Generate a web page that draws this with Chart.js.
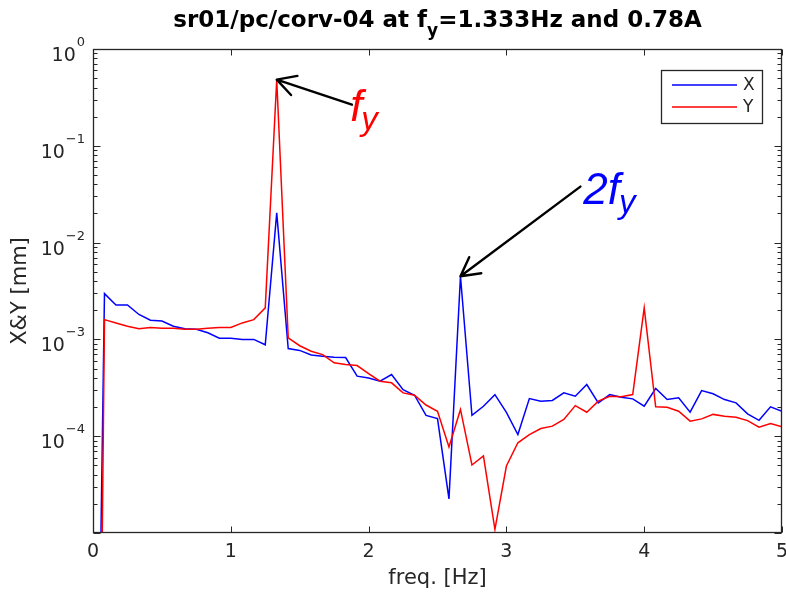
<!DOCTYPE html>
<html><head><meta charset="utf-8">
<script src="https://cdn.jsdelivr.net/npm/chart.js@4.4.0/dist/chart.umd.min.js"></script>
<style>html,body{margin:0;padding:0;background:#fff}#wrap{width:786px;height:594px;position:relative}</style>
</head><body><div id="wrap"><canvas id="c" width="786" height="594"></canvas></div>
<script>
// ---- data ----
const freq = [0,0.0833,0.1667,0.25,0.3333,0.4167,0.5,0.5833,0.6667,0.75,0.8333,0.9167,1,1.0833,1.1667,1.25,1.3333,1.4167,1.5,1.5833,1.6667,1.75,1.8333,1.9167,2,2.0833,2.1667,2.25,2.3333,2.4167,2.5,2.5833,2.6667,2.75,2.8333,2.9167,3,3.0833,3.1667,3.25,3.3333,3.4167,3.5,3.5833,3.6667,3.75,3.8333,3.9167,4,4.0833,4.1667,4.25,4.3333,4.4167,4.5,4.5833,4.6667,4.75,4.8333,4.9167,5];
const xAmp = [2.5e-11,2.97e-3,2.27e-3,2.27e-3,1.81e-3,1.58e-3,1.55e-3,1.37e-3,1.29e-3,1.27e-3,1.17e-3,1.03e-3,1.03e-3,1.0e-3,1.0e-3,8.8e-4,2.03e-2,8.05e-4,7.7e-4,6.9e-4,6.7e-4,6.55e-4,6.5e-4,4.17e-4,4.0e-4,3.7e-4,4.34e-4,3.03e-4,2.65e-4,1.64e-4,1.52e-4,2.25e-5,4.49e-3,1.64e-4,2.04e-4,2.69e-4,1.76e-4,1.04e-4,2.45e-4,2.30e-4,2.34e-4,2.81e-4,2.59e-4,3.42e-4,2.21e-4,2.69e-4,2.53e-4,2.43e-4,2.04e-4,3.11e-4,2.39e-4,2.49e-4,1.77e-4,2.96e-4,2.74e-4,2.39e-4,2.21e-4,1.70e-4,1.46e-4,2.01e-4,1.81e-4];
const yAmp = [5e-15,1.60e-3,1.48e-3,1.37e-3,1.29e-3,1.33e-3,1.30e-3,1.30e-3,1.27e-3,1.27e-3,1.30e-3,1.33e-3,1.33e-3,1.48e-3,1.60e-3,2.12e-3,0.482,1.04e-3,8.6e-4,7.55e-4,6.97e-4,5.73e-4,5.5e-4,5.37e-4,4.44e-4,3.7e-4,3.56e-4,2.8e-4,2.65e-4,2.1e-4,1.81e-4,7.74e-5,1.89e-4,5.04e-5,6.25e-5,1.09e-5,4.92e-5,8.55e-5,1.04e-4,1.20e-4,1.27e-4,1.49e-4,2.07e-4,1.77e-4,2.30e-4,2.59e-4,2.55e-4,2.69e-4,2.12e-3,2.01e-4,1.99e-4,1.81e-4,1.43e-4,1.51e-4,1.68e-4,1.61e-4,1.57e-4,1.45e-4,1.24e-4,1.35e-4,1.25e-4];
const seriesNames = ['X','Y'];
const xTickValues = [0,1,2,3,4,5];
const yTickExponents = [0,-1,-2,-3,-4];
const titleParts = ['sr01/pc/corv-04 at f','y','=1.333Hz and 0.78A'];
const xLabel = 'freq. [Hz]';
const yLabel = 'X&Y [mm]';
// annotations in data coordinates
const annoTips  = [[1.3333,0.482],[2.6667,4.49e-3]];
const annoTails = [[1.879,0.266],[3.537,0.0379]];
const annoTextPos = [[1.866,0.179],[3.558,0.0253]];
const annoMain = ['f','2f'];
const annoSub = ['y','y'];

const BLUE='#0000ff', RED='#ff0000', INK='#262626';
const FONT='"DejaVu Sans", sans-serif';

const decor = {
  id:'decor',
  afterDraw(chart){
    const {ctx, chartArea:a, scales:{x,y}} = chart;
    ctx.save();
    // axes box
    ctx.strokeStyle=INK; ctx.lineWidth=1.3;
    const L=Math.round(a.left)+0.5, R=Math.round(a.right)-0.5, T=Math.round(a.top)+0.5, B=Math.round(a.bottom)-0.5;
    ctx.strokeRect(L,T,R-L,B-T);
    ctx.lineWidth=1;
    ctx.beginPath();
    xTickValues.forEach(v=>{
      const px=Math.round(x.getPixelForValue(v))+0.5;
      ctx.moveTo(px,B); ctx.lineTo(px,B-6);
      ctx.moveTo(px,T); ctx.lineTo(px,T+6);
    });
    for(let e=0;e>=-5;e--){
      for(let m=1;m<=9;m++){
        const v=m*Math.pow(10,e-(m>1?1:0));
        if(v>1||v<1e-5) continue;
        const py=Math.round(y.getPixelForValue(v))+0.5;
        const len = m===1?7:4;
        ctx.moveTo(L,py); ctx.lineTo(L+len,py);
        ctx.moveTo(R,py); ctx.lineTo(R-len,py);
      }
    }
    ctx.stroke();
    // y tick labels 10^n
    ctx.fillStyle=INK; ctx.textBaseline='alphabetic';
    yTickExponents.forEach(e=>{
      const py=y.getPixelForValue(Math.pow(10,e));
      ctx.font='13px '+FONT;
      const es=String(e).replace('-','\u2212');
      const ew=ctx.measureText(es).width;
      const xr=85;
      ctx.textAlign='left';
      ctx.fillText(es,xr-ew,py-3);
      ctx.font='19px '+FONT;
      ctx.textAlign='right';
      ctx.fillText('10',xr-ew-1,py+12);
    });
    // title with subscript
    const tf='bold 23px '+FONT, sf='bold 17px '+FONT;
    ctx.font=tf; const w0=ctx.measureText(titleParts[0]).width, w2=ctx.measureText(titleParts[2]).width;
    ctx.font=sf; const w1=ctx.measureText(titleParts[1]).width;
    let tx=(a.left+a.right)/2-(w0+w1+w2)/2; const ty=27;
    ctx.textAlign='left'; ctx.fillStyle='#000';
    ctx.font=tf; ctx.fillText(titleParts[0],tx,ty); tx+=w0;
    ctx.font=sf; ctx.fillText(titleParts[1],tx,ty+9); tx+=w1;
    ctx.font=tf; ctx.fillText(titleParts[2],tx,ty);
    // legend
    const lx=a.right-121, ly=a.top+21, lw=101, lh=53;
    ctx.fillStyle='#fff'; ctx.fillRect(lx,ly,lw,lh);
    ctx.strokeStyle=INK; ctx.lineWidth=1.3; ctx.strokeRect(lx+0.5,ly+0.5,lw,lh);
    [BLUE,RED].forEach((c,i)=>{
      const yy=ly+15+i*22;
      ctx.strokeStyle=c; ctx.lineWidth=1.6;
      ctx.beginPath(); ctx.moveTo(lx+11,yy); ctx.lineTo(lx+76,yy); ctx.stroke();
      ctx.fillStyle=INK; ctx.font='17px '+FONT; ctx.textAlign='left'; ctx.textBaseline='middle';
      ctx.fillText(seriesNames[i],lx+82,yy+1);
    });
    // annotations
    ctx.textBaseline='alphabetic';
    annoTips.forEach((tip,i)=>{
      const tx1=x.getPixelForValue(tip[0]), ty1=y.getPixelForValue(tip[1]);
      const tx0=x.getPixelForValue(annoTails[i][0]), ty0=y.getPixelForValue(annoTails[i][1]);
      ctx.strokeStyle='#000'; ctx.lineWidth=2.4; ctx.lineCap='round'; ctx.lineJoin='round';
      ctx.beginPath(); ctx.moveTo(tx0,ty0); ctx.lineTo(tx1,ty1);
      const ang=Math.atan2(ty0-ty1,tx0-tx1), hl=21, ha=0.5;
      ctx.moveTo(tx1+hl*Math.cos(ang+ha),ty1+hl*Math.sin(ang+ha)); ctx.lineTo(tx1,ty1);
      ctx.lineTo(tx1+hl*Math.cos(ang-ha),ty1+hl*Math.sin(ang-ha));
      ctx.stroke();
      const px=x.getPixelForValue(annoTextPos[i][0]), py=y.getPixelForValue(annoTextPos[i][1]);
      ctx.fillStyle = i===0?RED:BLUE;
      ctx.font='italic 44px "Liberation Sans", sans-serif'; ctx.textAlign='left';
      ctx.fillText(annoMain[i],px,py);
      const mw=ctx.measureText(annoMain[i]).width;
      ctx.font='italic 33px "Liberation Sans", sans-serif';
      ctx.fillText(annoSub[i],px+mw-1,py+9);
    });
    ctx.restore();
  }
};

const pts = arr => freq.map((f,i)=>({x:f,y:arr[i]}));
new Chart(document.getElementById('c'),{
  type:'line',
  data:{datasets:[
    {label:seriesNames[0],data:pts(xAmp),borderColor:BLUE,borderWidth:1.5,pointRadius:0,tension:0,order:2,fill:false},
    {label:seriesNames[1],data:pts(yAmp),borderColor:RED,borderWidth:1.5,pointRadius:0,tension:0,order:1,fill:false}
  ]},
  options:{
    responsive:false, devicePixelRatio:1, animation:false,
    layout:{padding:{top:49,right:4,left:0,bottom:0}},
    plugins:{legend:{display:false},tooltip:{enabled:false},title:{display:false}},
    scales:{
      x:{type:'linear',min:0,max:5,
        afterBuildTicks:s=>{s.ticks=xTickValues.map(v=>({value:v}));},
        afterFit:s=>{s.height=61; s.paddingLeft=0; s.paddingRight=0;},
        grid:{display:false,drawTicks:false},border:{display:false},
        ticks:{color:INK,font:{family:FONT,size:19},padding:8,maxRotation:0},
        title:{display:true,text:xLabel,color:INK,font:{family:FONT,size:21},padding:{top:0,bottom:3}}
      },
      y:{type:'logarithmic',min:1e-5,max:1,
        afterFit:s=>{s.width=93; s.paddingTop=0; s.paddingBottom=0;},
        grid:{display:false,drawTicks:false},border:{display:false},
        ticks:{display:false},
        title:{display:true,text:yLabel,color:INK,font:{family:FONT,size:21},padding:{top:8,bottom:0}}
      }
    }
  },
  plugins:[decor]
});
</script></body></html>
